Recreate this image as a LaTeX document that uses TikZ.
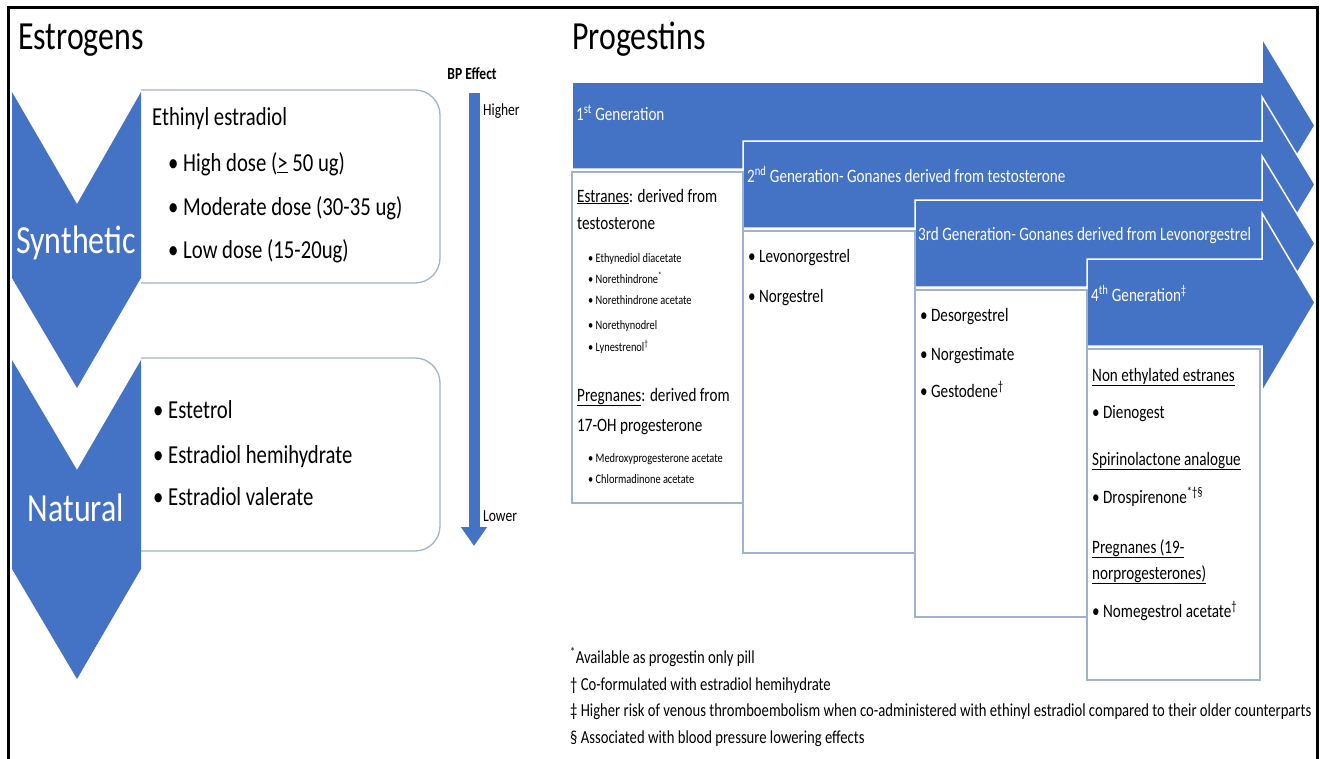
\documentclass[tikz,border=0pt]{standalone}
\usepackage{fontspec}
\setmainfont{Carlito}[FakeStretch=0.8]
\usetikzlibrary{arrows.meta}
\definecolor{officeblue}{RGB}{68,114,196}
\definecolor{boxline}{RGB}{160,177,209}
\tikzset{
	bigtitle/.style={anchor=base west, inner sep=0pt, font=\fontsize{40}{44}\selectfont},
	chevtext/.style={anchor=base, inner sep=0pt, text=white, font=\fontsize{40}{44}\selectfont},
	esttext/.style={anchor=base west, inner sep=0pt, font=\fontsize{26}{30}\selectfont},
	gentext/.style={anchor=base west, inner sep=0pt, text=white, font=\fontsize{19}{22}\selectfont},
	progtext/.style={anchor=base west, inner sep=0pt, font=\fontsize{19}{22}\selectfont},
	smalltext/.style={anchor=base west, inner sep=0pt, font=\fontsize{13}{15}\selectfont},
	bptext/.style={anchor=base west, inner sep=0pt, font=\fontsize{17}{20}\selectfont},
	notetext/.style={anchor=base west, inner sep=0pt, font=\fontsize{18.4}{21}\selectfont},
	roundbox/.style={draw=boxline, line width=1.3bp, fill=white, rounded corners=25bp},
	listbox/.style={draw=boxline, line width=1.3bp, fill=white},
	genarrow/.style={fill=officeblue, draw=white, line width=1.5bp},
	bparrow/.style={officeblue, line width=11bp, -{Triangle[width=25bp,length=19bp]}}
}

\begin{document}
\begin{tikzpicture}[x=1bp, y=-1bp]
	%%%%% START %%%%%
	\useasboundingbox (0,0) rectangle (1320,758);
	\draw[line width=3bp] (8,770) -- (8,8) -- (1317,8) -- (1317,770);
	
	% estrogens
	\node[bigtitle] (esttitle) at (18,50) {Estrogens};
	
	\begin{scope}
		\clip (141,0) rectangle (460,758);
		\draw[roundbox] (100,90) rectangle (440,283);
		\draw[roundbox] (100,358) rectangle (440,551);
	\end{scope}
	
	\fill[officeblue] (12,92) -- (77,204) -- (141,92) -- (141,278) -- (77,388) -- (12,278) -- cycle;
	\fill[officeblue] (12,360) -- (77,470) -- (141,360) -- (141,569) -- (77,679) -- (12,569) -- cycle;
	\node[chevtext] (synth) at (76,253) {Synthetic};
	\node[chevtext] (natural) at (76,521) {Natural};
	
	\node[esttext] (ethinyl) at (152,125) {Ethinyl estradiol};
	\node[esttext] (highdose) at (168,171) {\textbullet\ High dose (\underline{>} 50 ug)};
	\node[esttext] (moddose) at (168,215) {\textbullet\ Moderate dose (30-35 ug)};
	\node[esttext] (lowdose) at (168,258) {\textbullet\ Low dose (15-20ug)};
	
	\node[esttext] (estetrol) at (153,418) {\textbullet\ Estetrol};
	\node[esttext] (hemihyd) at (153,463) {\textbullet\ Estradiol hemihydrate};
	\node[esttext] (valerate) at (153,505) {\textbullet\ Estradiol valerate};
	
	% bp effect
	\node[bptext, anchor=base, font=\fontsize{17}{20}\bfseries] (bplabel) at (472,79) {BP Effect};
	\coordinate (bptop) at (474,93);
	\coordinate (bpbot) at (474,546);
	\draw[bparrow] (bptop) -- (bpbot);
	\node[bptext] (higher) at (483,115) {Higher};
	\node[bptext] (lower) at (483,521) {Lower};
	
	% progestins
	\node[bigtitle] (progtitle) at (572,50) {Progestins};
	
	\draw[genarrow] (572,82) -- (1262,82) -- (1262,38) -- (1315,125.5) -- (1262,213) -- (1262,169) -- (572,169) -- cycle;
	\draw[genarrow] (743,141) -- (1262,141) -- (1262,97) -- (1315,184.5) -- (1262,272) -- (1262,228) -- (743,228) -- cycle;
	\draw[genarrow] (915,200) -- (1262,200) -- (1262,156) -- (1315,243.5) -- (1262,331) -- (1262,287) -- (915,287) -- cycle;
	\draw[genarrow] (1087,259) -- (1262,259) -- (1262,213) -- (1315,302.5) -- (1262,392) -- (1262,346) -- (1087,346) -- cycle;
	
	\node[gentext] (gen1) at (576,120) {1\textsuperscript{st} Generation};
	\node[gentext] (gen2) at (747,182) {2\textsuperscript{nd} Generation- Gonanes derived from testosterone};
	\node[gentext] (gen3) at (918,240) {3rd Generation- Gonanes derived from Levonorgestrel};
	\node[gentext] (gen4) at (1091,301) {4\textsuperscript{th} Generation\textsuperscript{‡}};
	
	\draw[listbox] (572,172) rectangle (743,503);
	\draw[listbox] (743,231) rectangle (915,553);
	\draw[listbox] (915,290) rectangle (1087,617);
	\draw[listbox] (1087,349) rectangle (1260,680);
	
	% first generation list
	\node[progtext] (estranes) at (577,202) {\underline{Estranes}: derived from};
	\node[progtext] (testost) at (577,229) {testosterone};
	\node[smalltext] (ethyned) at (588,262) {\textbullet\ Ethynediol diacetate};
	\node[smalltext] (noreth) at (588,283) {\textbullet\ Norethindrone\textsuperscript{*}};
	\node[smalltext] (norethac) at (588,304) {\textbullet\ Norethindrone acetate};
	\node[smalltext] (norethyn) at (588,329) {\textbullet\ Norethynodrel};
	\node[smalltext] (lynes) at (588,351) {\textbullet\ Lynestrenol\textsuperscript{†}};
	\node[progtext] (pregn) at (577,401) {\underline{Pregnanes}: derived from};
	\node[progtext] (ohprog) at (577,431) {17-OH progesterone};
	\node[smalltext] (medroxy) at (588,462) {\textbullet\ Medroxyprogesterone acetate};
	\node[smalltext] (chlorm) at (588,483) {\textbullet\ Chlormadinone acetate};
	
	% second generation list
	\node[progtext] (levo) at (748,262) {\textbullet\ Levonorgestrel};
	\node[progtext] (norg) at (748,302) {\textbullet\ Norgestrel};
	
	% third generation list
	\node[progtext] (desog) at (920,321) {\textbullet\ Desorgestrel};
	\node[progtext] (norgest) at (920,360) {\textbullet\ Norgestimate};
	\node[progtext] (gesto) at (920,397) {\textbullet\ Gestodene\textsuperscript{†}};
	
	% fourth generation list
	\node[progtext] (nonethyl) at (1092,381) {\underline{Non ethylated estranes}};
	\node[progtext] (dieno) at (1092,418) {\textbullet\ Dienogest};
	\node[progtext] (spiro) at (1092,465) {\underline{Spirinolactone analogue}};
	\node[progtext] (drospi) at (1092,503) {\textbullet\ Drospirenone\textsuperscript{*†§}};
	\node[progtext] (pregn19) at (1092,553) {\underline{Pregnanes (19-}};
	\node[progtext] (norprog) at (1092,579) {\underline{norprogesterones)}};
	\node[progtext] (nomeg) at (1092,617) {\textbullet\ Nomegestrol acetate\textsuperscript{†}};
	
	% footnotes
	\node[notetext] (note1) at (570,663) {\textsuperscript{*}Available as progestin only pill};
	\node[notetext] (note2) at (570,690) {† Co-formulated with estradiol hemihydrate};
	\node[notetext] (note3) at (570,716) {‡ Higher risk of venous thromboembolism when co-administered with ethinyl estradiol compared to their older counterparts};
	\node[notetext] (note4) at (570,743) {§ Associated with blood pressure lowering effects};
	
	%%%%% END %%%%%
\end{tikzpicture}
\end{document}
